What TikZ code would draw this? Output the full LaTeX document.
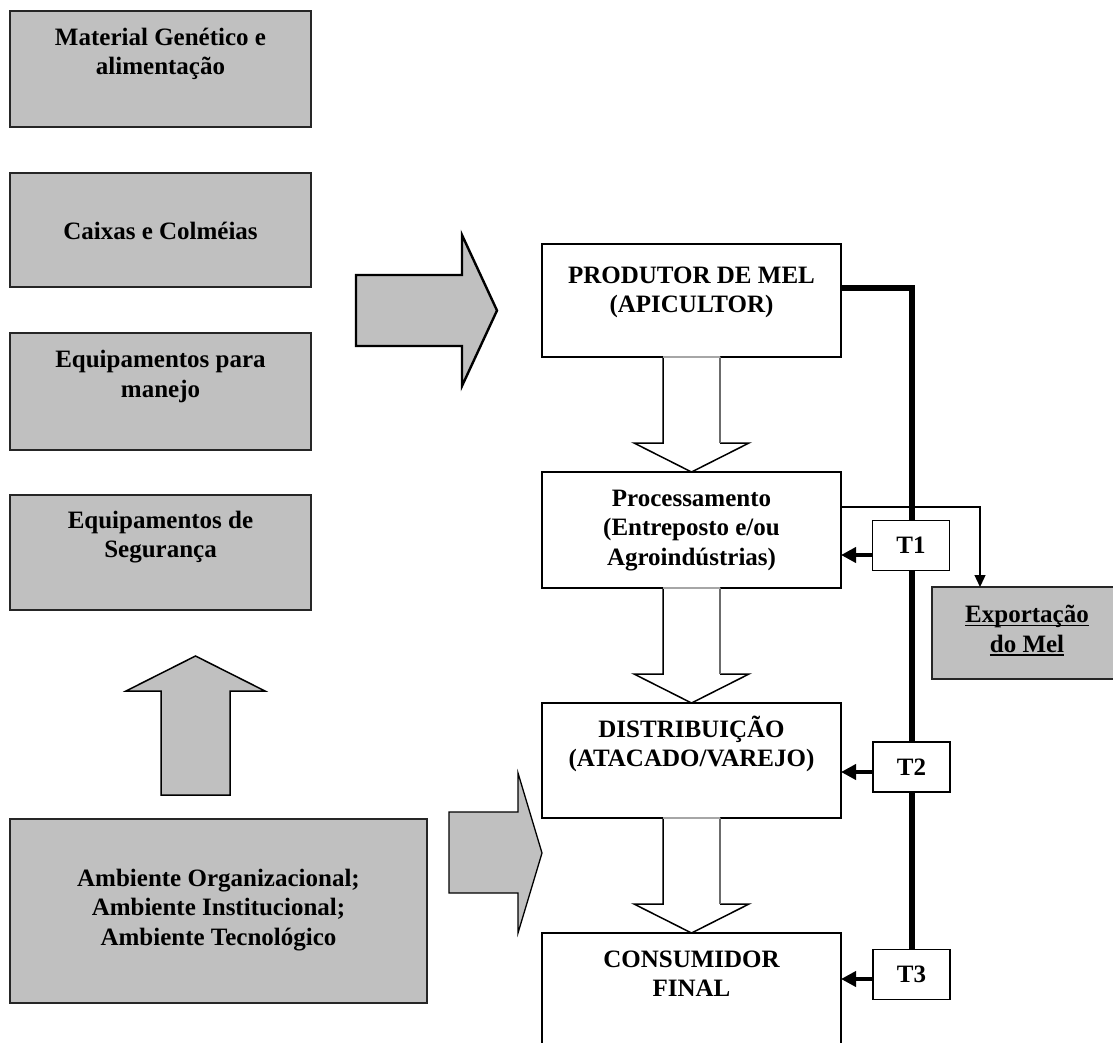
\documentclass[tikz,border=0pt]{standalone}
\usepackage{fontspec}
\setmainfont{Liberation Serif}
\usetikzlibrary{arrows.meta,calc,backgrounds}
\definecolor{boxgray}{RGB}{192,192,192}
\newcommand{\myul}[1]{\setbox0\hbox{#1}\rlap{\rule[-3.5pt]{\wd0}{1.6pt}}\box0}
\newcommand{\blkdown}[2]{%
  \path (#1.south) coordinate (bdA) (#2.north) coordinate (bdB);
  \fill[white] ($(bdA)+(-28.5,-1)$) -- ($(bdB)+(-28.5,-29)$) -- ($(bdB)+(-57.5,-29)$) -- (bdB)
     -- ($(bdB)+(57.5,-29)$) -- ($(bdB)+(28.5,-29)$) -- ($(bdA)+(28.5,-1)$) -- cycle;
  \draw[line width=1.5pt, line join=miter] ($(bdA)+(-28.5,0)$) -- ($(bdB)+(-28.5,-29)$) -- ($(bdB)+(-57.5,-29)$) -- (bdB)
     -- ($(bdB)+(57.5,-29)$) -- ($(bdB)+(28.5,-29)$);
  \draw[line width=1.4pt, gray!85!black] ($(bdB)+(28.5,-29)$) -- ($(bdA)+(28.5,0)$);
  \draw[line width=1.6pt, gray!70] ($(bdA)+(-28.5,0)$) -- ($(bdA)+(28.5,0)$);
}
\begin{document}
\begin{tikzpicture}[x=1pt,y=-1pt,
  gbox/.style={draw=black!85, line width=2pt, fill=boxgray, inner sep=0pt, outer sep=0pt},
  wbox/.style={draw=black, line width=1.5pt, fill=white, inner sep=0pt, outer sep=0pt},
  tbox/.style={draw=black, line width=1.5pt, fill=white, inner sep=0pt, outer sep=0pt,
     minimum width=77pt, minimum height=50pt, font=\fontsize{25}{29.5}\selectfont\bfseries},
  lbl/.style={inner sep=0pt, outer sep=0pt, align=center, anchor=north,
     font=\fontsize{25}{29.5}\selectfont\bfseries},
  blkarrow/.style={fill=boxgray, draw=black, line join=miter},
  tarr/.style={line width=4pt, -{Triangle[length=15pt,width=15pt]}},
  heavy/.style={line width=6pt},
  exparr/.style={line width=1.3pt, -{Triangle[length=12pt,width=11pt]}}
]
\useasboundingbox (0,0) rectangle (1113,1043);
\clip (0,0) rectangle (1113,1043);

% left gray boxes
\node[gbox, minimum width=301pt, minimum height=116pt] (b1) at (160.5,69) {};
\node[gbox, minimum width=301pt, minimum height=114pt] (b2) at (160.5,230) {};
\node[gbox, minimum width=301pt, minimum height=117pt] (b3) at (160.5,391.5) {};
\node[gbox, minimum width=301pt, minimum height=115pt] (b4) at (160.5,552.5) {};
\node[gbox, minimum width=417pt, minimum height=184pt] (amb) at (218.5,911) {};

\node[lbl] (tb1) at (160.5,28) {Material Genético e\\alimentação};
\node[lbl] (tb2) at (160.5,222.5) {Caixas e Colméias};
\node[lbl] (tb3) at (160.5,350.5) {Equipamentos para\\manejo};
\node[lbl] (tb4) at (160.5,511) {Equipamentos de\\Segurança};
\node[lbl] (tamb) at (218.5,869) {Ambiente Organizacional;\\Ambiente Institucional;\\Ambiente Tecnológico};

% gray block arrows
\draw[blkarrow, line width=2.4pt] (356,275) -- (462,275) -- (462,235) -- (497,310.5) -- (462,386) -- (462,346) -- (356,346) -- cycle;
\draw[blkarrow, line width=1.3pt] (449,812) -- (518,812) -- (518,773) -- (542,853) -- (518,933) -- (518,893) -- (449,893) -- cycle;
\draw[blkarrow, line width=1.5pt] (161,795) -- (161,691) -- (126,691) -- (195.5,656) -- (265,691) -- (230,691) -- (230,795) -- cycle;

% chain boxes
\node[wbox, minimum width=299pt, minimum height=113pt] (prod) at (691.5,300.5) {};
\node[wbox, minimum width=299pt, minimum height=116pt] (proc) at (691.5,530) {};
\node[wbox, minimum width=299pt, minimum height=115pt] (dist) at (691.5,760.5) {};
\node[wbox, minimum width=299pt, minimum height=147pt] (cons) at (691.5,1006.5) {};
\node[gbox, minimum width=190pt, minimum height=92pt] (exp) at (1027,633) {};

\node[lbl] (tprod) at (691.5,266.5) {PRODUTOR DE MEL\\(APICULTOR)};
\node[lbl] (tproc) at (691.5,490) {Processamento\\(Entreposto e/ou\\Agroindústrias)};
\node[lbl] (tdist) at (691.5,716) {DISTRIBUIÇÃO\\(ATACADO/VAREJO)};
\node[lbl] (tcons) at (691.5,950.5) {CONSUMIDOR\\FINAL};
\node[lbl] (texp) at (1027,605.5) {\myul{Exportação}\\\myul{do Mel}};

% white block arrows between chain boxes
\blkdown{prod}{proc}
\blkdown{proc}{dist}
\blkdown{dist}{cons}

% transaction boxes
\node[tbox] (T1) at (911,545.5) {T1};
\node[tbox] (T2) at (911.5,767) {T2};
\node[tbox] (T3) at (911.5,974.5) {T3};

\begin{scope}[on background layer]
\fill[white] (0,0) rectangle (1113,1043);
\draw[heavy] ([yshift=12.5pt]prod.east) -| (T3.north);
\end{scope}

\draw[tarr] ([yshift=-9.5pt]T1.west) coordinate (t1a) -- (t1a -| proc.east);
\draw[tarr] ([yshift=-5pt]T2.west) coordinate (t2a) -- (t2a -| dist.east);
\draw[tarr] ([yshift=-4.5pt]T3.west) coordinate (t3a) -- (t3a -| cons.east);

\draw[exparr] ([yshift=23pt]proc.east) -| ([xshift=-47pt]exp.north);
\end{tikzpicture}
\end{document}
